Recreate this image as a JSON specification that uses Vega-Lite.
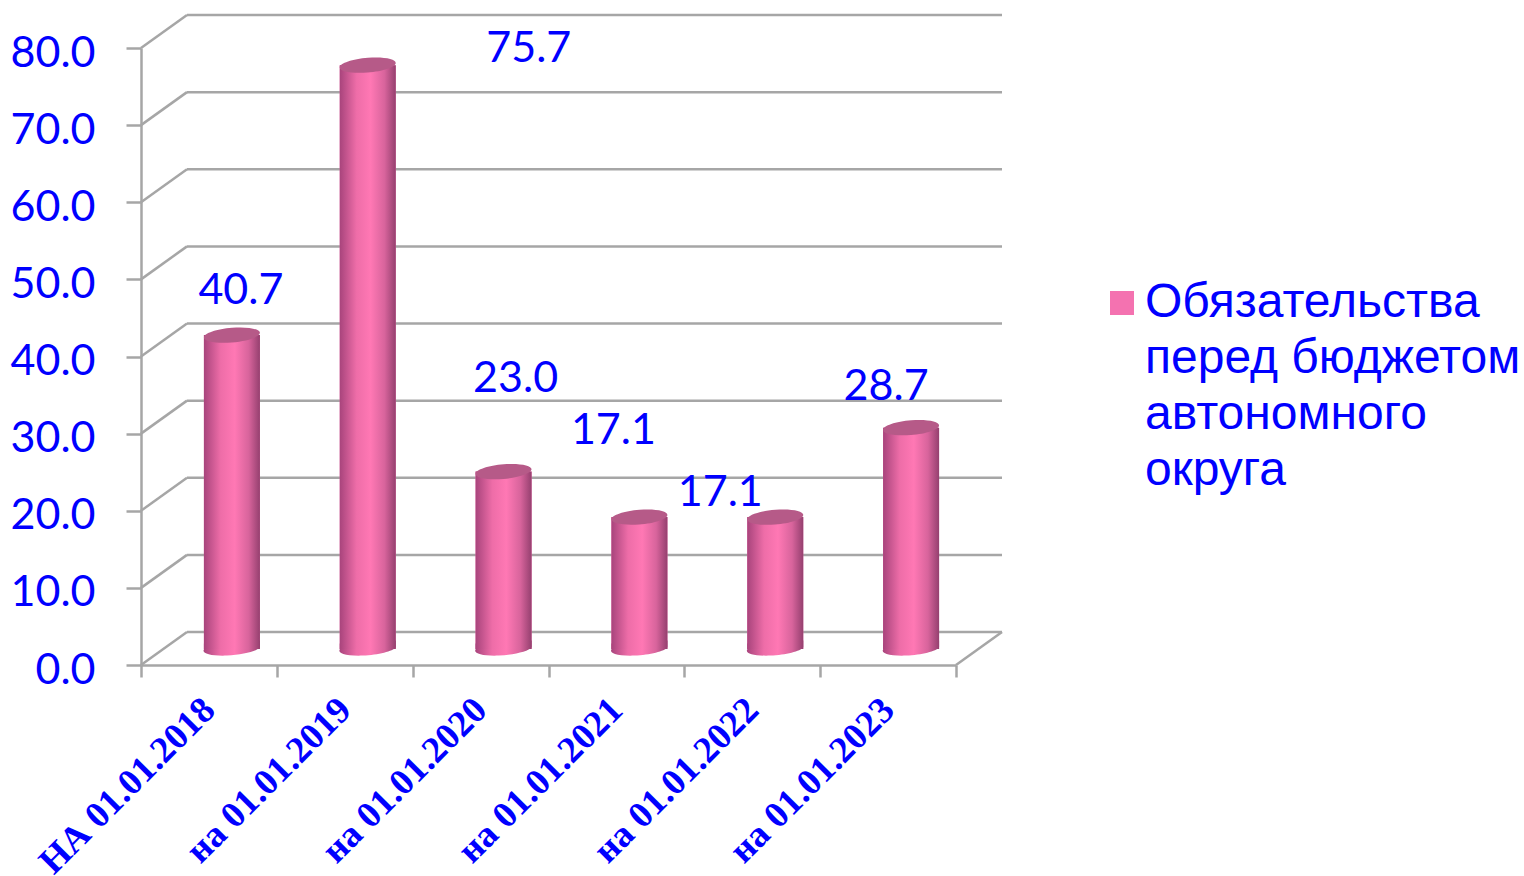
{"$schema":"https://vega.github.io/schema/vega-lite/v6.json","width":861,"height":650,"autosize":"none","padding":{"left":141,"top":15,"right":522,"bottom":211},"background":"white","config":{"view":{"stroke":null},"style":{"guide-label":{"lineHeight":56}}},
"datasets":{"bars":[{"d":"НА 01.01.2018","value":40.7,"series":"Обязательства перед бюджетом автономного округа"},{"d":"на 01.01.2019","value":75.7,"series":"Обязательства перед бюджетом автономного округа"},{"d":"на 01.01.2020","value":23.0,"series":"Обязательства перед бюджетом автономного округа"},{"d":"на 01.01.2021","value":17.1,"series":"Обязательства перед бюджетом автономного округа"},{"d":"на 01.01.2022","value":17.1,"series":"Обязательства перед бюджетом автономного округа"},{"d":"на 01.01.2023","value":28.7,"series":"Обязательства перед бюджетом автономного округа"}],
"grid":[{"v":0},{"v":10},{"v":20},{"v":30},{"v":40},{"v":50},{"v":60},{"v":70},{"v":80}]},
"resolve":{"scale":{"x":"independent"},"axis":{"x":"independent"}},
"layer":[
{"layer":[
{"data":{"name":"grid"},"mark":{"type":"rule","color":"#A6A6A6","strokeWidth":2.5,"xOffset":46,"x2Offset":46,"yOffset":-33,"y2Offset":-33},"encoding":{"x":{"datum":0,"type":"quantitative","scale":{"domain":[0,6],"range":[0,815]},"axis":null},"x2":{"datum":6},"y":{"field":"v","type":"quantitative","scale":{"domain":[0,80],"range":[650,33]},"axis":{"title":null,"values":[0,10,20,30,40,50,60,70,80],"format":".1f","domain":true,"domainColor":"#A6A6A6","domainWidth":2.5,"grid":false,"tickColor":"#A6A6A6","tickWidth":2.5,"tickSize":15,"labelPadding":31,"labelFont":"Lato","labelFontSize":43,"labelColor":"#0000FF","labelOffset":5}},"y2":{"field":"v"}}},
{"data":{"name":"grid"},"mark":{"type":"rule","color":"#A6A6A6","strokeWidth":2.5,"x2Offset":46,"y2Offset":-33},"encoding":{"x":{"datum":0,"type":"quantitative","scale":{"domain":[0,6],"range":[0,815]},"axis":null},"x2":{"datum":0},"y":{"field":"v","type":"quantitative","scale":{"domain":[0,80],"range":[650,33]}},"y2":{"field":"v"}}},
{"data":{"values":[{"v":0}]},"mark":{"type":"rule","color":"#A6A6A6","strokeWidth":2.5,"x2Offset":46,"y2Offset":-33},"encoding":{"x":{"datum":6,"type":"quantitative","scale":{"domain":[0,6],"range":[0,815]},"axis":null},"x2":{"datum":6},"y":{"field":"v","type":"quantitative","scale":{"domain":[0,80],"range":[650,33]}},"y2":{"field":"v"}}}
]},
{"layer":[
{"data":{"name":"bars"},"mark":{"type":"bar","size":56,"xOffset":23,"yOffset":-16,"y2Offset":-16},"encoding":{"x":{"field":"d","type":"nominal","sort":null,"scale":{"range":[0,815],"paddingInner":0,"paddingOuter":0},"axis":{"title":null,"tickBand":"extent","domain":true,"domainColor":"#A6A6A6","domainWidth":2.5,"tickColor":"#A6A6A6","tickWidth":2.5,"tickSize":12,"labelAngle":-45,"labelAlign":"right","labelBaseline":"middle","labelPadding":27,"labelFont":"Liberation Serif","labelFontWeight":"bold","labelFontSize":37,"labelColor":"#0000FF","labelLimit":400}},"y":{"field":"value","type":"quantitative","scale":{"domain":[0,80],"range":[650,33]}},"y2":{"datum":0},"color":{"field":"series","type":"nominal","scale":{"range":["#F472B0"]},"legend":{"title":null,"orient":"none","legendX":957,"legendY":264,"symbolType":"square","symbolSize":576,"symbolOpacity":1,"symbolStrokeWidth":0,"labelFont":"Liberation Sans","labelFontSize":48,"labelColor":"#0000FF","labelLimit":500,"labelOffset":-1,"labelExpr":"['Обязательства','перед бюджетом','автономного','округа']"}}}},
{"data":{"name":"bars"},"mark":{"type":"point","filled":true,"opacity":1,"size":3136,"xOffset":23,"yOffset":-16,"shape":"M-1,0.02A1,0.24 -5 0 0 1,-0.06L1,-0.3L-1,-0.2Z","fill":{"x1":0,"x2":1,"y1":0,"y2":0,"gradient":"linear","stops":[{"offset":0,"color":"#A8447C"},{"offset":0.3,"color":"#EE6DA8"},{"offset":0.55,"color":"#FF78B4"},{"offset":0.8,"color":"#D8649C"},{"offset":1,"color":"#95406F"}]}},"encoding":{"x":{"field":"d","type":"nominal","sort":null},"y":{"datum":0,"type":"quantitative","scale":{"domain":[0,80],"range":[650,33]}}}},
{"data":{"name":"bars"},"mark":{"type":"bar","size":56,"xOffset":23,"yOffset":-16,"y2Offset":-16,"fill":{"x1":0,"x2":1,"y1":0,"y2":0,"gradient":"linear","stops":[{"offset":0,"color":"#A8447C"},{"offset":0.3,"color":"#EE6DA8"},{"offset":0.55,"color":"#FF78B4"},{"offset":0.8,"color":"#D8649C"},{"offset":1,"color":"#95406F"}]}},"encoding":{"x":{"field":"d","type":"nominal","sort":null},"y":{"field":"value","type":"quantitative","scale":{"domain":[0,80],"range":[650,33]}},"y2":{"datum":0}}},
{"data":{"name":"bars"},"mark":{"type":"point","filled":true,"opacity":1,"size":3136,"color":"#B65A88","xOffset":23,"yOffset":-16,"shape":"M-1,0.08A1,0.26 -5 0 1 1,-0.08A1,0.26 -5 0 1 -1,0.08Z"},"encoding":{"x":{"field":"d","type":"nominal","sort":null},"y":{"field":"value","type":"quantitative","scale":{"domain":[0,80],"range":[650,33]}}}},
{"data":{"name":"bars"},"transform":[{"filter":"datum.d==='НА 01.01.2018'"}],"mark":{"type":"text","font":"Lato","fontSize":43,"color":"#0000FF","xOffset":32,"yOffset":-60,"baseline":"middle"},"encoding":{"x":{"field":"d","type":"nominal","sort":null},"y":{"field":"value","type":"quantitative","scale":{"domain":[0,80],"range":[650,33]}},"text":{"field":"value","format":".1f"}}},
{"data":{"name":"bars"},"transform":[{"filter":"datum.d==='на 01.01.2019'"}],"mark":{"type":"text","font":"Lato","fontSize":43,"color":"#0000FF","xOffset":184,"yOffset":-32,"baseline":"middle"},"encoding":{"x":{"field":"d","type":"nominal","sort":null},"y":{"field":"value","type":"quantitative","scale":{"domain":[0,80],"range":[650,33]}},"text":{"field":"value","format":".1f"}}},
{"data":{"name":"bars"},"transform":[{"filter":"datum.d==='на 01.01.2020'"}],"mark":{"type":"text","font":"Lato","fontSize":43,"color":"#0000FF","xOffset":35,"yOffset":-109,"baseline":"middle"},"encoding":{"x":{"field":"d","type":"nominal","sort":null},"y":{"field":"value","type":"quantitative","scale":{"domain":[0,80],"range":[650,33]}},"text":{"field":"value","format":".1f"}}},
{"data":{"name":"bars"},"transform":[{"filter":"datum.d==='на 01.01.2021'"}],"mark":{"type":"text","font":"Lato","fontSize":43,"color":"#0000FF","xOffset":-3,"yOffset":-102,"baseline":"middle"},"encoding":{"x":{"field":"d","type":"nominal","sort":null},"y":{"field":"value","type":"quantitative","scale":{"domain":[0,80],"range":[650,33]}},"text":{"field":"value","format":".1f"}}},
{"data":{"name":"bars"},"transform":[{"filter":"datum.d==='на 01.01.2022'"}],"mark":{"type":"text","font":"Lato","fontSize":43,"color":"#0000FF","xOffset":-32,"yOffset":-40,"baseline":"middle"},"encoding":{"x":{"field":"d","type":"nominal","sort":null},"y":{"field":"value","type":"quantitative","scale":{"domain":[0,80],"range":[650,33]}},"text":{"field":"value","format":".1f"}}},
{"data":{"name":"bars"},"transform":[{"filter":"datum.d==='на 01.01.2023'"}],"mark":{"type":"text","font":"Lato","fontSize":43,"color":"#0000FF","xOffset":-2,"yOffset":-57,"baseline":"middle"},"encoding":{"x":{"field":"d","type":"nominal","sort":null},"y":{"field":"value","type":"quantitative","scale":{"domain":[0,80],"range":[650,33]}},"text":{"field":"value","format":".1f"}}}
]}
]}
